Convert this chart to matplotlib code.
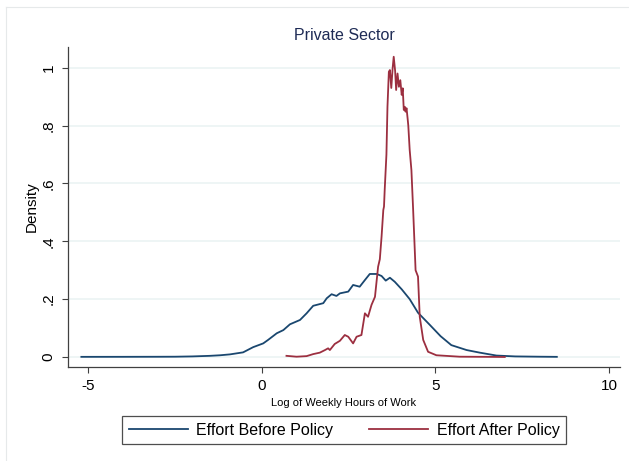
import matplotlib
matplotlib.use("Agg")
import matplotlib.pyplot as plt
from matplotlib.lines import Line2D

plt.rcParams['font.family'] = ['Liberation Sans', 'DejaVu Sans']

# kernel density estimates, log weekly hours
before_x = [-5.2, -4.0, -3.0, -2.5, -2.0, -1.5, -1.2, -0.92, -0.54, -0.25, 0.04, 0.18,
            0.43, 0.62, 0.81, 1.10, 1.29, 1.48, 1.77, 1.87, 2.01, 2.15, 2.25, 2.49,
            2.63, 2.82, 2.97, 3.11, 3.31, 3.45, 3.57, 3.69, 3.83, 4.03, 4.26, 4.50,
            4.84, 5.15, 5.46, 5.90, 6.28, 6.76, 7.30, 8.00, 8.50]
before_y = [0.0005, 0.0006, 0.0008, 0.001, 0.002, 0.004, 0.006, 0.009, 0.016, 0.034,
            0.047, 0.059, 0.082, 0.093, 0.113, 0.128, 0.151, 0.177, 0.186, 0.203,
            0.217, 0.211, 0.220, 0.226, 0.249, 0.243, 0.266, 0.287, 0.287, 0.280,
            0.264, 0.274, 0.260, 0.234, 0.200, 0.153, 0.111, 0.072, 0.041, 0.024,
            0.015, 0.005, 0.002, 0.001, 0.0005]

after_x = [0.71, 1.00, 1.29, 1.48, 1.67, 1.82, 1.91, 1.96, 2.10, 2.25, 2.39, 2.49,
           2.63, 2.73, 2.87, 2.97, 3.06, 3.16, 3.26, 3.35, 3.40, 3.45, 3.50, 3.52,
           3.54, 3.59, 3.62, 3.66, 3.69, 3.73, 3.77, 3.80, 3.84, 3.87, 3.91, 3.95,
           3.99, 4.03, 4.06, 4.09, 4.12, 4.14, 4.17, 4.20, 4.22, 4.26, 4.31, 4.36,
           4.43, 4.50, 4.55, 4.65, 4.79, 5.03, 5.70, 6.50, 7.00]
after_y = [0.004, 0.001, 0.003, 0.010, 0.015, 0.024, 0.030, 0.024, 0.045, 0.056,
           0.076, 0.070, 0.047, 0.070, 0.076, 0.151, 0.139, 0.180, 0.208, 0.312,
           0.338, 0.416, 0.508, 0.520, 0.577, 0.700, 0.865, 0.986, 0.992, 0.930,
           1.000, 1.038, 0.990, 0.923, 0.980, 0.934, 0.957, 0.906, 0.929, 0.854,
           0.865, 0.848, 0.860, 0.825, 0.800, 0.716, 0.646, 0.508, 0.300, 0.278,
           0.139, 0.059, 0.018, 0.006, 0.001, 0.0005, 0.0]

x_ticks = [-5, 0, 5, 10]
y_ticks = [0, 0.2, 0.4, 0.6, 0.8, 1.0]
y_tick_labels = ['0', '.2', '.4', '.6', '.8', '1']

navy = '#1a476f'
maroon = '#9c2f40'
W, H = 629, 461

fig = plt.figure(figsize=(W / 100, H / 100), dpi=100)

# light outer frame around the graph region
fig.add_artist(Line2D([6 / W, 6 / W], [0, 1 - 7 / H], color='#e6e9ea', lw=0.8))
fig.add_artist(Line2D([6 / W, 628 / W], [1 - 7 / H, 1 - 7 / H], color='#e6e9ea', lw=0.8))

ax = fig.add_axes([68 / W, 1 - 367 / H, (620 - 68) / W, (367 - 47) / H])

for yv in y_ticks:
    ax.axhline(yv, color='#eaf2f3', lw=1.1, zorder=0)

ax.plot(before_x, before_y, color=navy, lw=1.3, label='Effort Before Policy')
ax.plot(after_x, after_y, color=maroon, lw=1.3, label='Effort After Policy')

ax.set_xlim(-5.585, 10.32)
ax.set_ylim(-0.0346, 1.0716)
ax.set_xticks(x_ticks)
ax.set_xticklabels([str(v) for v in x_ticks])
ax.set_yticks(y_ticks)
ax.set_yticklabels(y_tick_labels, rotation=90, va='center')

for side in ['top', 'right']:
    ax.spines[side].set_visible(False)
for side in ['left', 'bottom']:
    ax.spines[side].set_color('#404040')
    ax.spines[side].set_linewidth(0.9)
ax.tick_params(axis='both', direction='out', length=4, width=0.8, color='#404040',
               labelsize=11, labelcolor='black')
ax.tick_params(axis='x', pad=5)
ax.tick_params(axis='y', pad=5)

ax.set_xlabel('Log of Weekly Hours of Work', fontsize=8, labelpad=3)
ax.set_ylabel('Density', fontsize=11, labelpad=2)
ax.set_title('Private Sector', fontsize=11.5, color='#1e2b55', pad=5)

leg = fig.legend(loc='center', bbox_to_anchor=(344 / W, 1 - 430 / H), ncol=2,
                 fontsize=11.5, frameon=True, fancybox=False, handlelength=3.7,
                 handletextpad=0.55, columnspacing=2.2, borderpad=0.4,
                 borderaxespad=0)
leg.get_frame().set_edgecolor('#222222')
leg.get_frame().set_linewidth(0.9)

fig.savefig('out.png', dpi=100)
